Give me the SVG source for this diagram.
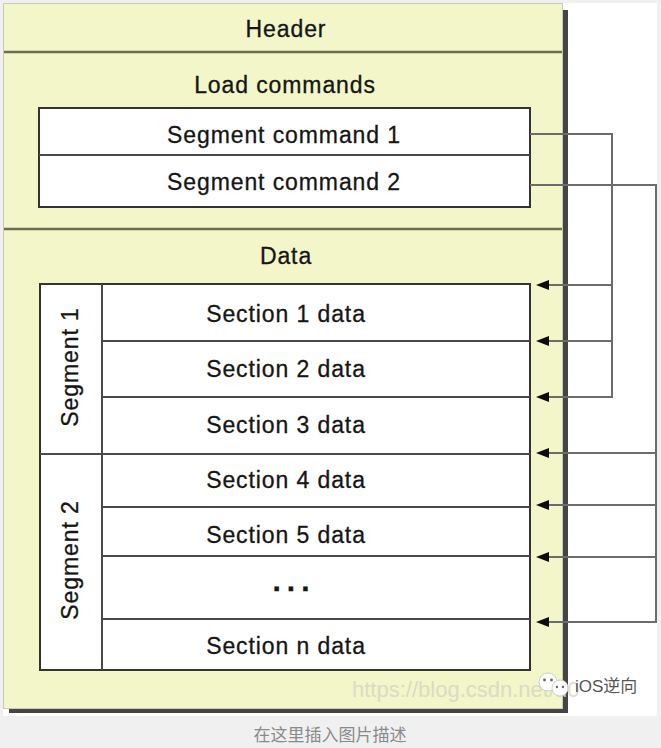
<svg xmlns="http://www.w3.org/2000/svg" width="661" height="748" viewBox="0 0 661 748">
<defs>
<style>
.t{font-family:"Liberation Sans",Arial,sans-serif;font-size:23px;fill:#151515;stroke:#151515;stroke-width:0.3px;text-anchor:middle;letter-spacing:0.9px}
.box{fill:#ffffff;stroke:#333333;stroke-width:2}
.div{stroke:#4a4a4a;stroke-width:2}
.ydiv{stroke:#6a6f50;stroke-width:2.5}
.conn{fill:none;stroke:#6c6c6c;stroke-width:2}
</style>
<marker id="ah" markerUnits="userSpaceOnUse" markerWidth="16" markerHeight="11" refX="9" refY="5" orient="auto">
<path d="M0,0 L13,5 L0,10 z" fill="#0d0d0d"/>
</marker>
</defs>
<rect x="0" y="0" width="661" height="748" fill="#f0f0f0"/>
<rect x="3" y="3" width="654" height="713" fill="#ffffff"/>
<!-- outer file box -->
<g id="file">
<rect x="9" y="10" width="559" height="703" fill="#454545"/>
<rect x="3.5" y="3.5" width="559" height="705" fill="#f2f6c8" stroke="#c9cbb8" stroke-width="1"/>
<line class="ydiv" x1="4" y1="52" x2="562" y2="52"/>
<line class="ydiv" x1="4" y1="229" x2="562" y2="229"/>
</g>
<g id="header"><text class="t" x="286" y="37">Header</text></g>
<g id="load-commands"><text class="t" x="285" y="93">Load commands</text></g>
<g id="segment-commands">
<rect class="box" x="39" y="108" width="491" height="99"/>
<line class="div" x1="39" y1="155" x2="530" y2="155"/>
</g>
<g id="seg-cmd-1"><text class="t" x="284" y="143">Segment command 1</text></g>
<g id="seg-cmd-2"><text class="t" x="284" y="190">Segment command 2</text></g>
<g id="data"><text class="t" x="286" y="264">Data</text></g>
<g id="data-box">
<rect class="box" x="40" y="284" width="490" height="386"/>
<line class="div" x1="102" y1="284" x2="102" y2="670"/>
<line class="div" x1="40" y1="454" x2="530" y2="454"/>
<line class="div" x1="102" y1="341" x2="530" y2="341"/>
<line class="div" x1="102" y1="397" x2="530" y2="397"/>
<line class="div" x1="102" y1="507" x2="530" y2="507"/>
<line class="div" x1="102" y1="556" x2="530" y2="556"/>
<line class="div" x1="102" y1="619" x2="530" y2="619"/>
</g>
<g id="segment-1"><text class="t" transform="translate(78,367) rotate(-90)" x="0" y="0">Segment  1</text></g>
<g id="segment-2"><text class="t" transform="translate(78,560) rotate(-90)" x="0" y="0">Segment  2</text></g>
<g id="section-1"><text class="t" x="286" y="322">Section 1 data</text></g>
<g id="section-2"><text class="t" x="286" y="377">Section 2 data</text></g>
<g id="section-3"><text class="t" x="286" y="433">Section 3 data</text></g>
<g id="section-4"><text class="t" x="286" y="488">Section 4 data</text></g>
<g id="section-5"><text class="t" x="286" y="543">Section 5 data</text></g>
<g id="section-ellipsis"><text class="t" x="294" y="591" style="font-size:30px;font-weight:bold;letter-spacing:6px">...</text></g>
<g id="section-n"><text class="t" x="286" y="654">Section n data</text></g>
<!-- connectors -->
<g id="connectors">
<path class="conn" d="M530,134 H612 V397 H540" marker-end="url(#ah)"/>
<path class="conn" d="M612,285 H540" marker-end="url(#ah)"/>
<path class="conn" d="M612,341 H540" marker-end="url(#ah)"/>
<path class="conn" d="M530,185 H656 V622 H540" marker-end="url(#ah)"/>
<path class="conn" d="M656,453 H540" marker-end="url(#ah)"/>
<path class="conn" d="M656,505 H540" marker-end="url(#ah)"/>
<path class="conn" d="M656,557 H540" marker-end="url(#ah)"/>
</g>
<!-- watermark -->
<g id="watermark">
<text x="352" y="697" style="font-family:'Liberation Sans',Arial,sans-serif;font-size:22px;fill:#d6d8c6;opacity:0.85">https://blog.csdn.net/u0</text>
<circle cx="548" cy="682" r="9" fill="#ffffff" stroke="#cfcfcf" stroke-width="1"/>
<circle cx="560" cy="688" r="8" fill="#ffffff" stroke="#cfcfcf" stroke-width="1"/>
<circle cx="544.5" cy="680" r="1.4" fill="#666"/>
<circle cx="551.5" cy="680" r="1.4" fill="#666"/>
<circle cx="557" cy="687" r="1.2" fill="#666"/>
<circle cx="563" cy="687" r="1.2" fill="#666"/>
<text x="575" y="692" style="font-family:'Liberation Sans','Noto Sans CJK SC',sans-serif;font-size:17px;fill:#555555">iOS逆向</text>
</g>
<g id="caption"><text x="330" y="741" style="font-family:'Noto Sans CJK SC','Liberation Sans',sans-serif;font-size:17px;fill:#8a8a8a;text-anchor:middle">在这里插入图片描述</text></g>
</svg>
